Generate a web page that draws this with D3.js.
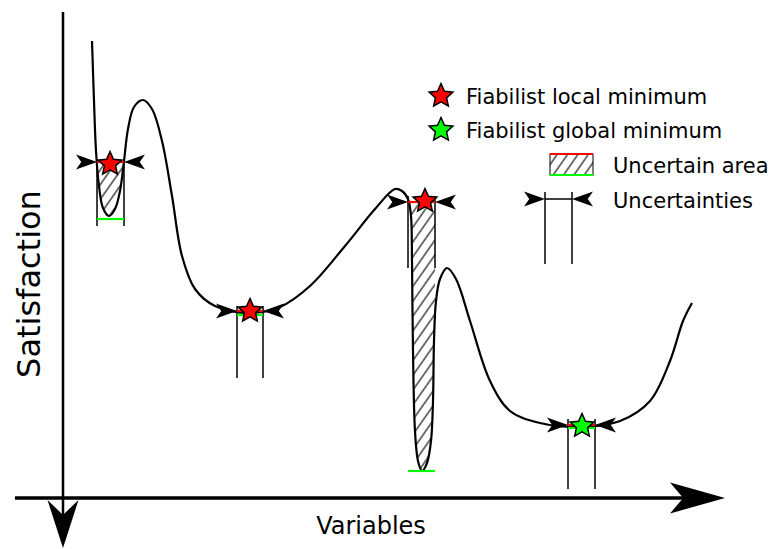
<!DOCTYPE html>
<html><head><meta charset="utf-8">
<script src="https://cdn.jsdelivr.net/npm/d3@7"></script>
<style>html,body{margin:0;padding:0;background:#fff;}svg{display:block;font-family:"DejaVu Sans",sans-serif;}</style>
</head><body>
<svg id="c" width="772" height="549"></svg>
<script>
// Satisfaction curve (data units: variable offset, satisfaction level)
const curveX = [29,31,33,36,40,46,52,57,61,65,71,80,89,99,109,119,132,152,187,217,247,282,312,332,339,345,348,349,350,352,355,359,364,368,370,371,373,377,384,393,407,427,447,477,517,557,587,607,620,629];
const curveY = [457,397,347,312,290,282,289,307,337,369,391,398,389,357,302,242,209,192,185,191,212,252,289,309,307,299,282,237,147,67,37,27,35,57,97,157,197,219,230,219,177,117,87,75,71,77,97,137,177,195];

// Fiabilist minima
const minType   = ["local","local","local","global"];
const starX     = [47,187,362,519];
const starY     = [334,187,297,72];
const boundLow  = [34,174,345,505];
const boundHigh = [61,200,372,532];
const redLevel  = [336,187,296,73];
const greenLevel= [279,183,27,70];
const boundTop  = [339,192,302,79];
const boundBot  = [272,120,230,9];

// Legend
const legendLabels = ["Fiabilist local minimum","Fiabilist global minimum","Uncertain area","Uncertainties"];

const svg = d3.select("#c");
const x = d3.scaleLinear().domain([0,672]).range([63,735]);
const y = d3.scaleLinear().domain([0,485]).range([498,13]);

const defs = svg.append("defs");
const pat = defs.append("pattern").attr("id","hatch").attr("patternUnits","userSpaceOnUse")
  .attr("width",8.5).attr("height",8.5).attr("patternTransform","rotate(35)");
pat.append("line").attr("x1",1).attr("y1",-1).attr("x2",1).attr("y2",10).attr("stroke","#000").attr("stroke-width",1.1);

function arrowPath(L,H,notch){return `M0,0 L${-L},${-H/2} L${-L*notch},0 L${-L},${H/2} Z`;}
function arrow(g,tx,ty,angle,L,H,notch){
  g.append("path").attr("d",arrowPath(L,H,notch)).attr("transform",`translate(${tx},${ty}) rotate(${angle})`).attr("fill","#000");
}
function starPath(R,ratio){
  const p=[];
  for(let k=0;k<10;k++){const r=k%2?R*ratio:R;const a=-Math.PI/2+k*Math.PI/5;p.push([r*Math.cos(a),r*Math.sin(a)]);}
  return "M"+p.map(q=>q[0].toFixed(2)+","+q[1].toFixed(2)).join("L")+"Z";
}
const colorStar = t => t==="global" ? "#00ff00" : "#ff0000";
const starD = starPath(12.5,0.47);

const pts = curveX.map((v,i)=>[v,curveY[i]]);
const lineGen = d3.line().x(d=>x(d[0])).y(d=>y(d[1])).curve(d3.curveCatmullRom.alpha(0.5));

// hatched areas
minType.forEach((t,i)=>{
  const cid="clip"+i;
  defs.append("clipPath").attr("id",cid).append("rect")
    .attr("x",x(boundLow[i])).attr("y",y(redLevel[i]))
    .attr("width",x(boundHigh[i])-x(boundLow[i])).attr("height",y(0)-y(redLevel[i]));
  const areaGen = d3.area().x(d=>x(d[0])).y0(y(redLevel[i])).y1(d=>y(d[1])).curve(d3.curveCatmullRom.alpha(0.5));
  svg.append("path").attr("d",areaGen(pts)).attr("fill","url(#hatch)").attr("clip-path",`url(#${cid})`);
});

// uncertainty bounds
minType.forEach((t,i)=>{
  [boundLow[i],boundHigh[i]].forEach(b=>{
    svg.append("line").attr("x1",x(b)).attr("x2",x(b)).attr("y1",y(boundTop[i])).attr("y2",y(boundBot[i]))
      .attr("stroke","#000").attr("stroke-width",1.5);
  });
});

// curve
svg.append("path").attr("d",lineGen(pts)).attr("fill","none").attr("stroke","#000").attr("stroke-width",2.2);

// markers
minType.forEach((t,i)=>{
  svg.append("line").attr("x1",x(boundLow[i])).attr("x2",x(boundHigh[i])).attr("y1",y(greenLevel[i])).attr("y2",y(greenLevel[i]))
    .attr("stroke","#00ff00").attr("stroke-width",2.2);
  svg.append("line").attr("x1",x(boundLow[i])).attr("x2",x(boundHigh[i])).attr("y1",y(redLevel[i])).attr("y2",y(redLevel[i]))
    .attr("stroke","#ff0000").attr("stroke-width",2.2);
  arrow(svg,x(boundLow[i]),y(redLevel[i]),0,21,15,0.75);
  arrow(svg,x(boundHigh[i]),y(redLevel[i]),180,21,15,0.75);
  svg.append("path").attr("d",starD).attr("transform",`translate(${x(starX[i])},${y(starY[i])})`)
    .attr("fill",colorStar(t)).attr("stroke","#000").attr("stroke-width",1.5).attr("stroke-linejoin","miter");
});

// axes
svg.append("line").attr("x1",15).attr("x2",686).attr("y1",y(0)).attr("y2",y(0)).attr("stroke","#000").attr("stroke-width",3.5);
arrow(svg,725,y(0),0,55,31,0.76);
svg.append("line").attr("x1",x(0)).attr("x2",x(0)).attr("y1",12).attr("y2",518).attr("stroke","#000").attr("stroke-width",2.5);
arrow(svg,x(0),548,90,48,31,0.69);

svg.append("text").attr("transform","translate(40,284) rotate(-90)").attr("text-anchor","middle")
  .attr("font-size",32).attr("fill","#000").text("Satisfaction");
svg.append("text").attr("x",371).attr("y",534).attr("text-anchor","middle").attr("font-size",24).attr("fill","#000").text("Variables");

// legend
const lg = svg.append("g");
lg.append("path").attr("d",starD).attr("transform","translate(441,96)").attr("fill","#ff0000").attr("stroke","#000").attr("stroke-width",1.5);
lg.append("path").attr("d",starD).attr("transform","translate(441,130)").attr("fill","#00ff00").attr("stroke","#000").attr("stroke-width",1.5);
lg.append("text").attr("x",466).attr("y",104).attr("font-size",21).text(legendLabels[0]);
lg.append("text").attr("x",466).attr("y",138).attr("font-size",21).text(legendLabels[1]);
lg.append("rect").attr("x",550).attr("y",154).attr("width",43).attr("height",21).attr("fill","url(#hatch)").attr("stroke","#000").attr("stroke-width",1);
lg.append("line").attr("x1",550).attr("x2",593).attr("y1",154).attr("y2",154).attr("stroke","#ff0000").attr("stroke-width",2);
lg.append("line").attr("x1",550).attr("x2",593).attr("y1",175).attr("y2",175).attr("stroke","#00ff00").attr("stroke-width",2);
lg.append("text").attr("x",613).attr("y",173).attr("font-size",21).text(legendLabels[2]);
[545,572].forEach(b=>lg.append("line").attr("x1",b).attr("x2",b).attr("y1",192).attr("y2",264).attr("stroke","#000").attr("stroke-width",1.5));
lg.append("line").attr("x1",545).attr("x2",572).attr("y1",199).attr("y2",199).attr("stroke","#000").attr("stroke-width",1.5);
arrow(lg,545,199,0,21,15,0.75);
arrow(lg,572,199,180,21,15,0.75);
lg.append("text").attr("x",613).attr("y",208).attr("font-size",21).text(legendLabels[3]);
</script>
</body></html>
